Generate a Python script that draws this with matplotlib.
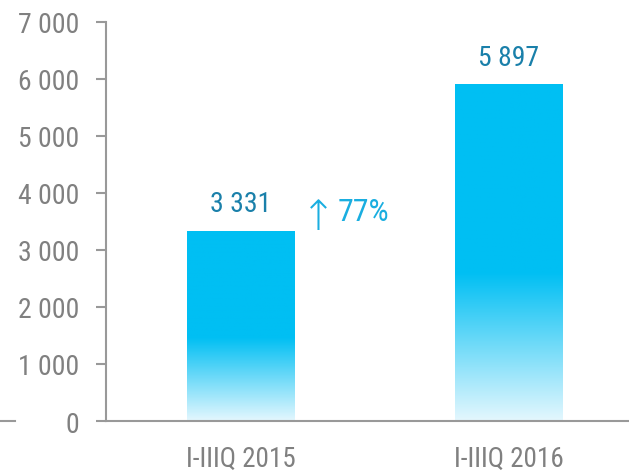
import numpy as np
import matplotlib.pyplot as plt
from matplotlib.colors import LinearSegmentedColormap
from matplotlib.lines import Line2D

categories = ["I-IIIQ 2015", "I-IIIQ 2016"]
values = [3331, 5897]
value_labels = ["3 331", "5 897"]
growth_arrow = "\u2191"
growth_label = "77%"
yticks = [0, 1000, 2000, 3000, 4000, 5000, 6000, 7000]
ytick_labels = ["0", "1 000", "2 000", "3 000", "4 000", "5 000", "6 000", "7 000"]

plt.rcParams['font.family'] = ['Roboto Condensed', 'DejaVu Sans']

bar_color = "#00BFF3"
axis_color = "#999999"
tick_text = "#808080"

fig = plt.figure(figsize=(6.29, 4.77), dpi=100)
ax = fig.add_axes([0.1685, 0.1153, 0.8315, 0.8367])

# gradient: light at bottom, solid cyan from ~44% of bar height upward
cmap = LinearSegmentedColormap.from_list(
    "bar", [(0.0, "#E4F7FE"), (0.44, bar_color), (1.0, bar_color)])
grad = np.linspace(0, 1, 256).reshape(-1, 1)

width = 0.403
x = np.arange(len(categories))
for xi, v, lab in zip(x, values, value_labels):
    ax.imshow(grad, cmap=cmap, origin='lower', aspect='auto',
              extent=(xi - width / 2, xi + width / 2, 0, v), zorder=2)
    ax.text(xi, v + 350, lab, ha='center', va='baseline',
            fontsize=20, color="#1A80AA")

ax.text(0.29, 3580, growth_arrow, ha='center', va='center',
        fontsize=30, color="#1AAEE0", family='DejaVu Sans', fontweight='light')
ax.text(0.36, 3667, growth_label, ha='left', va='center',
        fontsize=23, color="#1AAEE0")

ax.set_xlim(-0.504, 1.448)
ax.set_ylim(0, 7000)
ax.set_xticks(x)
ax.set_xticklabels(categories, fontsize=19.5, color=tick_text)
ax.set_yticks(yticks)
ax.set_yticklabels(ytick_labels, fontsize=20, color=tick_text)

for side in ['top', 'right']:
    ax.spines[side].set_visible(False)
for side in ['left', 'bottom']:
    ax.spines[side].set_color(axis_color)
    ax.spines[side].set_linewidth(1.5)
ax.tick_params(axis='y', direction='out', length=7, width=1.5, color=axis_color, pad=12)
ax.tick_params(axis='x', length=0, pad=17)

# stray dash at the far left of the baseline
fig.add_artist(Line2D([0.0, 0.024], [0.1153, 0.1153], color=axis_color, lw=1.5))

fig.savefig("out.png", dpi=100)
